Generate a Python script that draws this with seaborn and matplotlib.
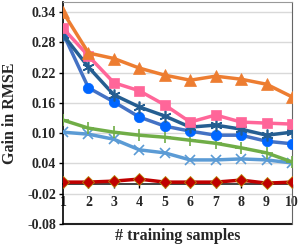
import matplotlib
matplotlib.use("Agg")
import matplotlib.pyplot as plt
import seaborn as sns
import pandas as pd

samples = [1, 2, 3, 4, 5, 6, 7, 8, 9, 10]
orange_tri = [0.340, 0.259, 0.248, 0.229, 0.215, 0.205, 0.213, 0.207, 0.197, 0.172]
pink_sq = [0.308, 0.253, 0.200, 0.184, 0.156, 0.122, 0.136, 0.122, 0.120, 0.118]
navy_star = [0.295, 0.231, 0.176, 0.152, 0.134, 0.112, 0.116, 0.108, 0.096, 0.102]
blue_circ = [0.298, 0.190, 0.162, 0.132, 0.114, 0.104, 0.096, 0.096, 0.084, 0.079]
green_plus = [0.126, 0.110, 0.102, 0.096, 0.092, 0.086, 0.080, 0.071, 0.061, 0.043]
lblue_x = [0.102, 0.098, 0.088, 0.067, 0.061, 0.047, 0.047, 0.049, 0.047, 0.041]
red_dia = [0.003, 0.003, 0.005, 0.009, 0.003, 0.003, 0.003, 0.007, 0.001, 0.003]
yticks = [-0.08, -0.02, 0.04, 0.10, 0.16, 0.22, 0.28, 0.34]

sns.set_style("white")
plt.rcParams['font.family'] = ['Liberation Serif', 'DejaVu Serif']
plt.rcParams['font.weight'] = 'bold'

fig = plt.figure(figsize=(3.01, 2.46), dpi=100)
ax = fig.add_axes([63/301, 1 - 224/246, (292-63)/301, (224-2)/246])

series = [
    (lblue_x, "#5B9BD5", "x", "#5B9BD5", "#5B9BD5", 7.5, 1.2),
    (green_plus, "#70AD47", "+", "#70AD47", "#70AD47", 8, 1.2),
    (blue_circ, "#4472C4", "o", "#0066FF", "#0066FF", 7.5, 0),
    (navy_star, "#255E91", (6, 2, 0), "#255E91", "#255E91", 8.5, 1.2),
    (pink_sq, "#FF6699", "s", "#FF6699", "#FF6699", 7, 0),
    (orange_tri, "#ED7D31", "^", "#ED7D31", "#ED7D31", 8, 0),
    (red_dia, "#C00000", "D", "#C00000", "#B8860B", 6, 0.6),
]

for vals, lc, mk, mfc, mec, ms, mew in series:
    df = pd.DataFrame({"x": samples, "y": vals})
    sns.lineplot(data=df, x="x", y="y", ax=ax, color=lc, linewidth=2.5,
                 marker=mk, markersize=ms, markerfacecolor=mfc,
                 markeredgecolor=mec, markeredgewidth=mew if mew else 0.5,
                 legend=False, zorder=3)

ax.set_xlim(1, 10)
ax.set_ylim(-0.08, 0.36)
ax.set_yticks(yticks)
ax.set_yticklabels([f"{v:.2f}" for v in yticks], fontsize=10, fontweight='bold')
ax.set_xticks(samples)
ax.set_xticklabels([str(s) for s in samples], fontsize=10.5, fontweight='bold')
ax.grid(axis='y', color='#D9D9D9', linewidth=1.0)
ax.set_axisbelow(True)

ax.spines['bottom'].set_position(('data', 0))
ax.spines['bottom'].set_color('#222222')
ax.spines['bottom'].set_linewidth(1.2)
ax.spines['bottom'].set_zorder(2)
ax.spines['left'].set_color('black')
ax.spines['left'].set_linewidth(1.2)
ax.spines['right'].set_color('#666666')
ax.spines['top'].set_color('#999999')
ax.axhline(-0.08, color='#222222', linewidth=1.5, clip_on=False, zorder=2)

ax.tick_params(axis='y', length=3, width=1, color='black', pad=2, left=True)
ax.tick_params(axis='x', length=3, width=1, color='black', pad=6, bottom=True)

ax.set_xlabel("# training samples", fontsize=11.5, fontweight='bold')
ax.xaxis.set_label_coords(0.5, -0.02, transform=ax.transAxes)
ax.xaxis.label.set_va('top')
ax.set_ylabel("Gain in RMSE", fontsize=11.5, fontweight='bold')
ax.yaxis.set_label_coords(-0.195, 0.5, transform=ax.transAxes)

fig.savefig("out.png", dpi=100)
